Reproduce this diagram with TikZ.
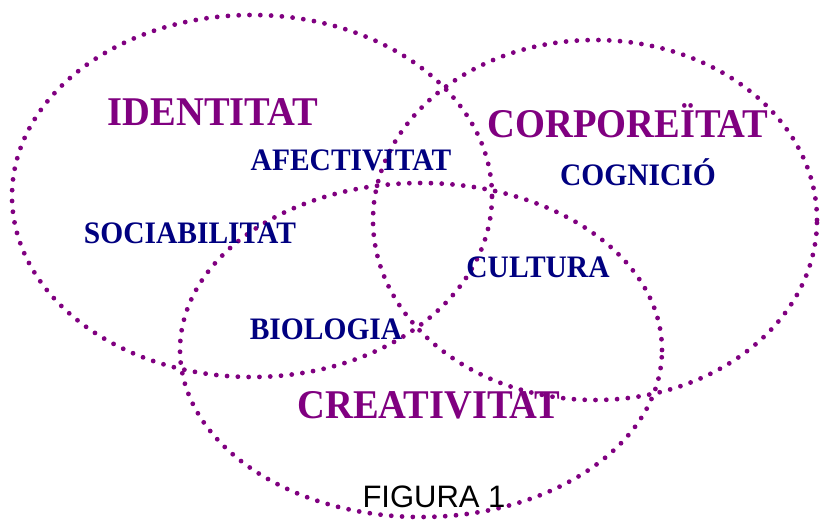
\documentclass[tikz,border=0pt]{standalone}
\usepackage{fontspec}
\setmainfont{Liberation Serif}
\newfontfamily\arialfont{Liberation Sans}
\definecolor{ringpurple}{HTML}{800080}
\definecolor{labelnavy}{HTML}{000080}
\begin{document}
\begin{tikzpicture}[x=1pt,y=-1pt,
  ring/.style={draw=ringpurple, line width=4.8pt, line cap=round, dash pattern=on 0pt off 10.8pt},
  mainlabel/.style={text=ringpurple, font=\fontsize{38.5}{40}\selectfont\bfseries, inner sep=0pt, yscale=1.06},
  sublabel/.style={text=labelnavy, font=\fontsize{29.5}{31}\selectfont\bfseries, inner sep=0pt, yscale=1.06},
  caption/.style={text=black, font=\arialfont\fontsize{31}{33}\selectfont, inner sep=0pt}]
\useasboundingbox (0,0) rectangle (821,522);
% circles
\draw[ring] (252,196) ellipse [x radius=240pt, y radius=181pt];
\draw[ring] (595,220) ellipse [x radius=222pt, y radius=180pt];
\draw[ring] (421,350) ellipse [x radius=241pt, y radius=167pt];
% main labels
\node[mainlabel] (identitat) at (213,112) {IDENTITAT};
\node[mainlabel] (corporeitat) at (628,121) {CORPOREÏTAT};
\node[mainlabel] (creativitat) at (429,405) {CREATIVITAT};
% sub labels
\node[sublabel] (afectivitat) at (351,160) {AFECTIVITAT};
\node[sublabel] (sociabilitat) at (190,233) {SOCIABILITAT};
\node[sublabel] (cognicio) at (638,172) {COGNICIÓ};
\node[sublabel] (cultura) at (538,267) {CULTURA};
\node[sublabel] (biologia) at (326,329) {BIOLOGIA};
% caption
\node[caption] (figura) at (434,497) {FIGURA 1};
\end{tikzpicture}
\end{document}
